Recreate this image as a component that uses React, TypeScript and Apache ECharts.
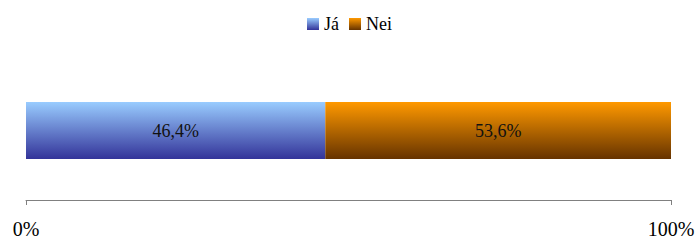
import React, { useEffect, useRef } from "react";
import * as echarts from "echarts";

const categories = [""];
const seriesNames = ["Já", "Nei"];
const jaValues = [46.4];
const neiValues = [53.6];
const tickLabels = ["0%", "100%"];

function grad(top: string, bottom: string) {
  return new echarts.graphic.LinearGradient(0, 0, 0, 1, [
    { offset: 0, color: top },
    { offset: 1, color: bottom },
  ]);
}

export default function App() {
  const ref = useRef<HTMLDivElement>(null);
  useEffect(() => {
    if (!ref.current) return;
    const chart = echarts.init(ref.current, undefined, { renderer: "svg" });
    chart.setOption({
      animation: false,
      legend: {
        top: 10,
        left: "center",
        itemWidth: 12,
        itemHeight: 12,
        itemGap: 10,
        icon: "rect",
        textStyle: { fontFamily: "Liberation Serif", fontSize: 18, color: "#000" },
        data: seriesNames,
      },
      grid: { left: 26, right: 28, top: 102, height: 57 },
      xAxis: {
        type: "value",
        min: 0,
        max: 100,
        interval: 100,
        offset: 41,
        axisLine: { show: true, lineStyle: { color: "#808080" } },
        axisTick: { show: true, length: 5, lineStyle: { color: "#808080" } },
        splitLine: { show: false },
        axisLabel: {
          margin: 19,
          fontFamily: "Liberation Serif",
          fontSize: 20,
          color: "#000",
          formatter: (v: number) => (v === 0 ? tickLabels[0] : tickLabels[1]),
        },
      },
      yAxis: { type: "category", data: categories, show: false },
      series: [
        {
          name: seriesNames[0],
          type: "bar",
          stack: "a",
          barWidth: "100%",
          data: jaValues,
          itemStyle: { color: grad("#99ccff", "#333399") },
          label: {
            show: true,
            fontSize: 18,
            fontFamily: "Liberation Serif",
            color: "#111",
            formatter: (p: any) => String(p.value).replace(".", ",") + "%",
          },
        },
        {
          name: seriesNames[1],
          type: "bar",
          stack: "a",
          barWidth: "100%",
          data: neiValues,
          itemStyle: { color: grad("#ff9900", "#663300") },
          label: {
            show: true,
            fontSize: 18,
            fontFamily: "Liberation Serif",
            color: "#111",
            formatter: (p: any) => String(p.value).replace(".", ",") + "%",
          },
        },
      ],
    });
    return () => chart.dispose();
  }, []);
  return <div ref={ref} style={{ width: 699, height: 240, position: "absolute", left: 0, top: 0 }} />;
}
